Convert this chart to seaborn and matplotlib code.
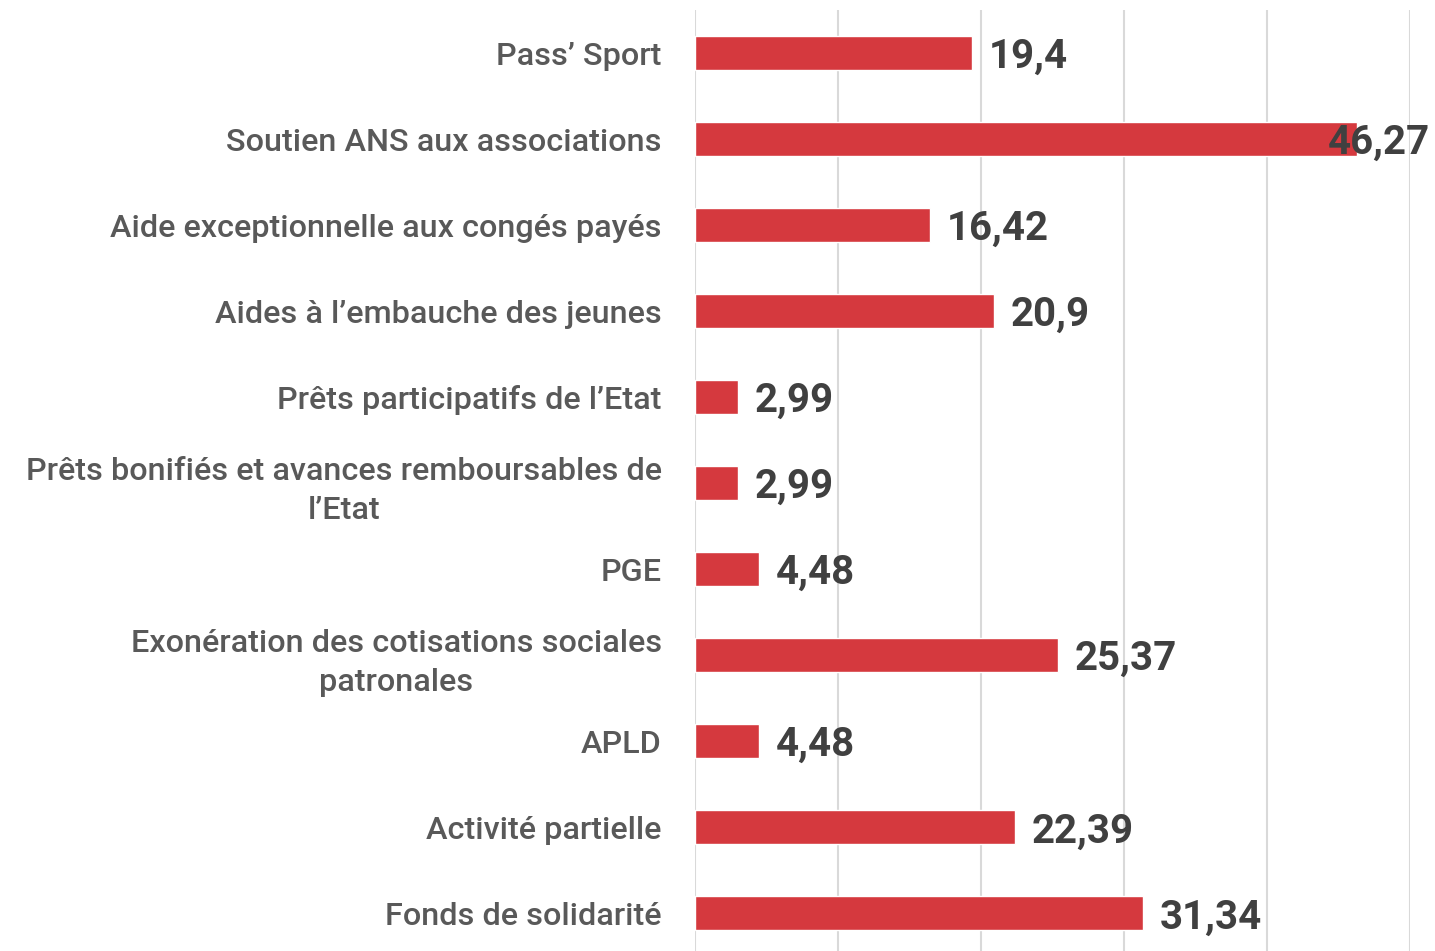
import matplotlib
matplotlib.use("Agg")
import matplotlib.pyplot as plt
import seaborn as sns
import pandas as pd

categories = [
    "Pass\u2019 Sport",
    "Soutien ANS aux associations",
    "Aide exceptionnelle aux congés payés",
    "Aides à l\u2019embauche des jeunes",
    "Prêts participatifs de l\u2019Etat",
    "Prêts bonifiés et avances remboursables de\nl\u2019Etat",
    "PGE",
    "Exonération des cotisations sociales\npatronales",
    "APLD",
    "Activité partielle",
    "Fonds de solidarité",
]
values = [19.4, 46.27, 16.42, 20.9, 2.99, 2.99, 4.48, 25.37, 4.48, 22.39, 31.34]

BAR_COLOR = "#d5393e"
LABEL_COLOR = "#595959"
VALUE_COLOR = "#404040"
GRID_COLOR = "#d9d9d9"

df = pd.DataFrame({"categorie": categories, "valeur": values})

sns.set_theme(style="white")
plt.rcParams["font.family"] = ["Roboto", "DejaVu Sans"]

fig = plt.figure(figsize=(14.35, 9.51), dpi=100)
ax = fig.add_axes([695 / 1435, 0.0, (1410 - 695) / 1435, 941 / 951])

sns.barplot(data=df, x="valeur", y="categorie", orient="h", color=BAR_COLOR,
            width=0.4, saturation=1, ax=ax, zorder=3)

ax.set_xlim(0, 50)
ax.set_ylim(10.44, -0.5)
ax.set_xticks([0, 10, 20, 30, 40, 50])
ax.set_xticklabels([])
ax.tick_params(axis="x", length=0)
ax.tick_params(axis="y", length=0, pad=24)
ax.grid(axis="x", color=GRID_COLOR, linewidth=1.5, zorder=0)
ax.set_axisbelow(True)
for s in ax.spines.values():
    s.set_visible(False)
ax.set_xlabel("")
ax.set_ylabel("")

for lbl in ax.get_yticklabels():
    lbl.set_fontsize(23.3)
    lbl.set_fontweight("medium")
    lbl.set_color(LABEL_COLOR)
    lbl.set_multialignment("center")
    lbl.set_linespacing(1.45)

# value labels just past the bar end, kept inside the figure on the right
fig.canvas.draw()
renderer = fig.canvas.get_renderer()
right_limit = 1430
for i, v in enumerate(values):
    txt = ax.annotate(f"{v:g}".replace(".", ","), xy=(v, i), xytext=(12, -3),
                      textcoords="offset points", ha="left", va="center",
                      fontsize=29, fontweight="bold", color=VALUE_COLOR, zorder=4)
    bb = txt.get_window_extent(renderer)
    if bb.x1 > right_limit:
        shift = (bb.x1 - right_limit) * 72 / fig.dpi
        txt.set_position((12 - shift, -3))

fig.savefig("out.png", dpi=100)
